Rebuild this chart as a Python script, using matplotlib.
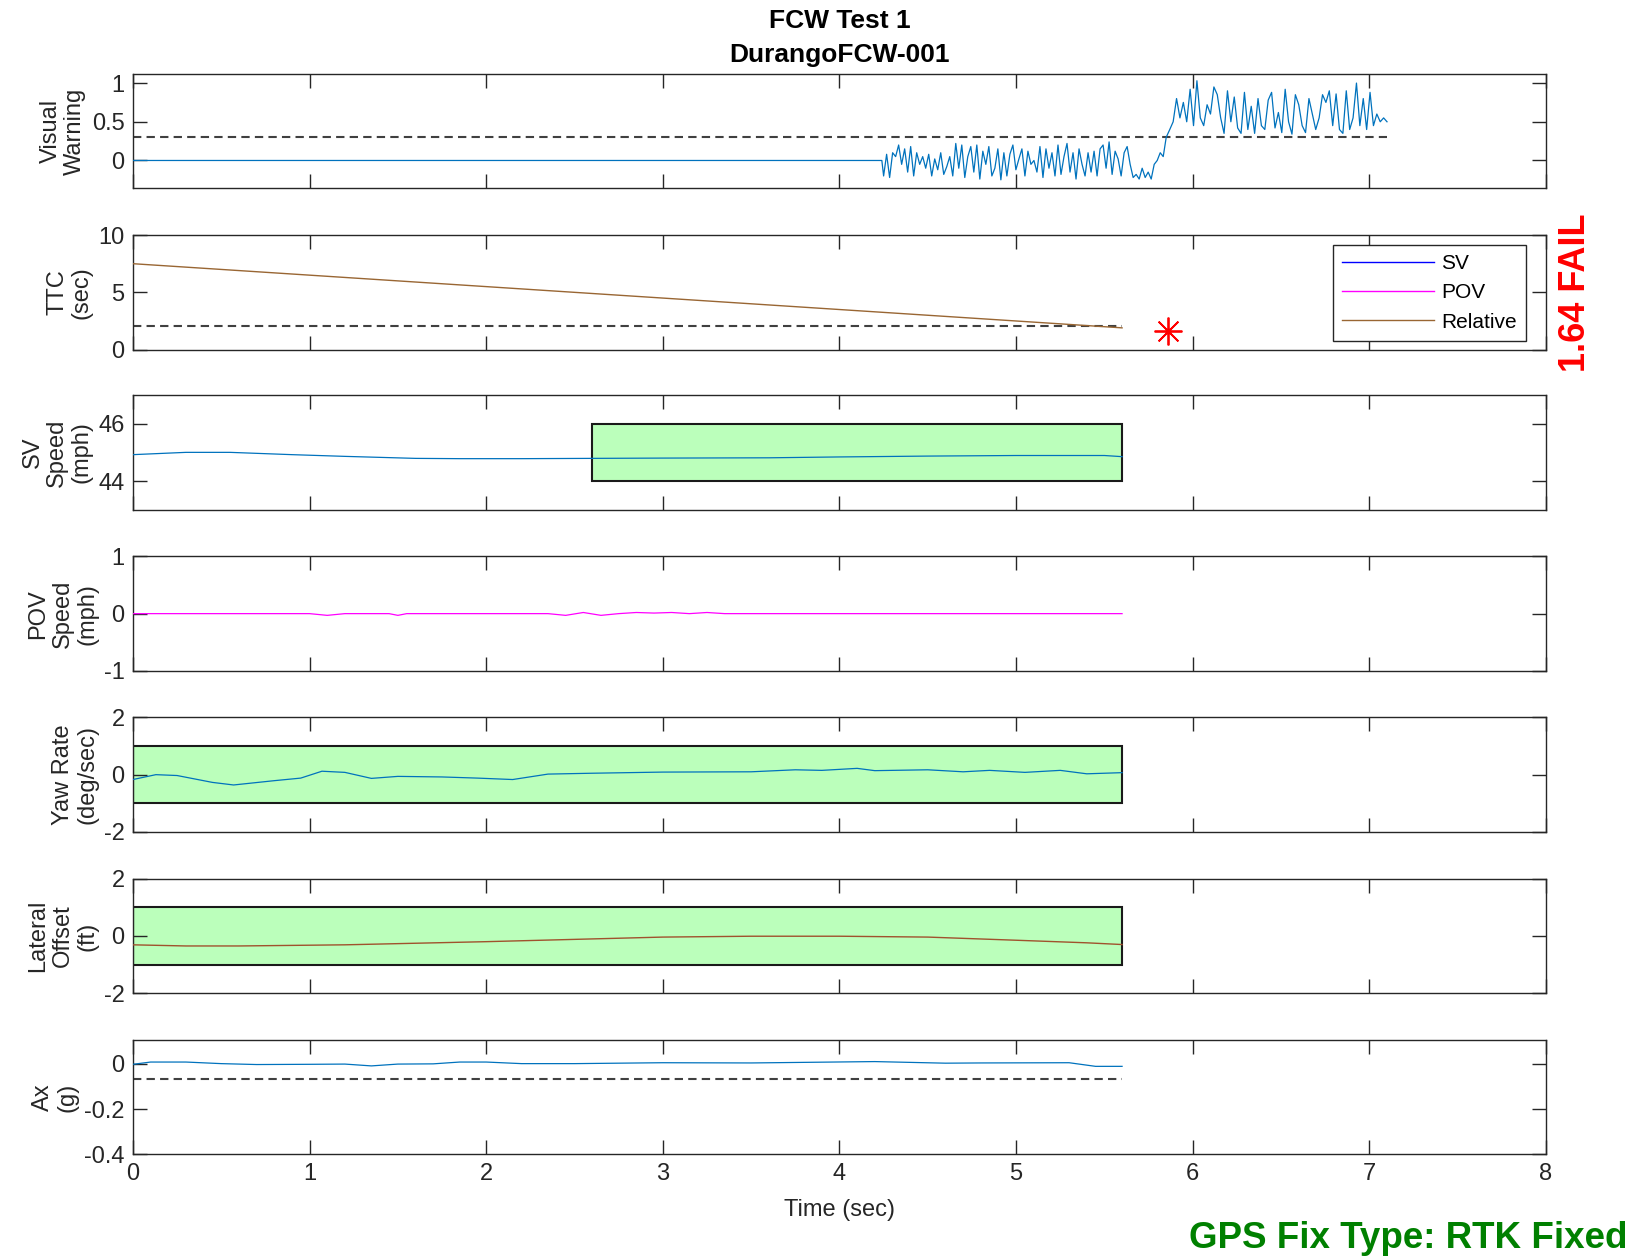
import numpy as np
import matplotlib.pyplot as plt
from matplotlib.patches import Rectangle

plt.rcParams['font.family'] = ['Liberation Sans', 'DejaVu Sans']
plt.rcParams['axes.unicode_minus'] = False

# ---- data ----
# Visual warning: flat zero, then noisy segment below / above threshold
vw_flat_t = [0.0, 4.24]
vw_flat_v = [0.0, 0.0]
vw_seg1 = [-0.2, 0.08, -0.22, 0.1, 0.05, 0.2, -0.05, 0.15, -0.15, 0.18, -0.2, 0.1, -0.05, 0.05,
           -0.1, 0.08, -0.2, 0.02, -0.12, 0.1, -0.18, -0.08, 0.05, -0.2, 0.22, -0.1, 0.2, -0.22,
           0.05, 0.18, -0.15, 0.2, -0.24, 0.12, -0.05, 0.18, -0.2, -0.1, 0.15, -0.25, 0.1, -0.2,
           0.08, 0.2, -0.12, 0.02, 0.15, -0.2, 0.12, -0.05, 0.0, -0.15, 0.18, -0.22, 0.15, -0.1,
           0.1, -0.2, 0.2, -0.18, 0.05, 0.22, -0.15, 0.1, -0.24, 0.15, -0.05, -0.2, 0.1, -0.15,
           0.12, -0.2, 0.15, 0.2, -0.1, 0.24, -0.18, 0.12, 0.02, -0.2, 0.1, 0.18, -0.05, -0.22,
           -0.18, -0.24, -0.1, -0.22, -0.15, -0.24, -0.05, 0.0, 0.1, 0.05, 0.3]
vw_seg1_span = (4.25, 5.85)
vw_seg2 = [0.4, 0.5, 0.8, 0.55, 0.75, 0.5, 0.92, 0.45, 1.03, 0.55, 0.45, 0.72, 0.6, 0.95, 0.85,
           0.55, 0.35, 0.9, 0.5, 0.82, 0.42, 0.35, 0.88, 0.4, 0.7, 0.35, 0.8, 0.45, 0.4, 0.78,
           0.88, 0.42, 0.62, 0.36, 0.92, 0.5, 0.34, 0.85, 0.72, 0.45, 0.36, 0.8, 0.6, 0.4, 0.55,
           0.85, 0.75, 0.9, 0.45, 0.86, 0.4, 0.35, 0.9, 0.4, 0.55, 1.0, 0.45, 0.8, 0.4, 0.88,
           0.45, 0.6, 0.5, 0.55, 0.5]
vw_seg2_span = (5.87, 7.10)
vw_threshold = 0.3

# TTC
ttc_t = [0.0, 1.0, 2.0, 3.0, 4.0, 5.0, 5.6]
ttc_rel = [7.5, 6.5, 5.5, 4.5, 3.5, 2.5, 1.9]
ttc_threshold = 2.1
ttc_fail_t, ttc_fail_v = 5.86, 1.64

# SV speed
sv_t = [0.0, 0.3, 0.55, 0.9, 1.2, 1.6, 1.85, 2.2, 2.6, 3.0, 3.6, 4.0, 4.5, 5.0, 5.5, 5.6]
sv_v = [44.92, 45.0, 45.0, 44.92, 44.86, 44.79, 44.78, 44.78, 44.79, 44.8, 44.81, 44.84,
        44.87, 44.89, 44.89, 44.85]
sv_box = (2.6, 5.6, 44.0, 46.0)

# POV speed
pov_t = [0.0, 1.0, 1.1, 1.2, 1.45, 1.5, 1.55, 2.35, 2.45, 2.55, 2.65, 2.75, 2.85, 2.95,
         3.05, 3.15, 3.25, 3.35, 5.6]
pov_v = [0.0, 0.0, -0.03, 0.0, 0.0, -0.03, 0.0, 0.0, -0.03, 0.02, -0.03, 0.0, 0.02, 0.01,
         0.02, 0.0, 0.02, 0.0, 0.0]

# Yaw rate
yaw_t = [0.0, 0.13, 0.25, 0.45, 0.57, 0.8, 0.95, 1.07, 1.2, 1.35, 1.5, 1.75, 1.95, 2.15,
         2.35, 2.6, 3.0, 3.5, 3.75, 3.9, 4.1, 4.2, 4.5, 4.7, 4.85, 5.05, 5.25, 5.4, 5.6]
yaw_v = [-0.17, 0.0, -0.03, -0.27, -0.36, -0.21, -0.12, 0.12, 0.08, -0.13, -0.06, -0.08,
         -0.12, -0.17, 0.02, 0.05, 0.09, 0.1, 0.17, 0.15, 0.22, 0.14, 0.17, 0.1, 0.15, 0.08,
         0.15, 0.03, 0.07]
yaw_box = (0.0, 5.6, -1.0, 1.0)

# Lateral offset
lat_t = [0.0, 0.3, 0.6, 1.2, 2.0, 2.5, 3.0, 3.5, 4.0, 4.5, 5.0, 5.4, 5.6]
lat_v = [-0.31, -0.35, -0.35, -0.31, -0.2, -0.12, -0.04, -0.01, -0.01, -0.04, -0.15, -0.24, -0.3]
lat_box = (0.0, 5.6, -1.0, 1.0)

# Longitudinal acceleration
ax_t = [0.0, 0.1, 0.3, 0.5, 0.7, 1.0, 1.2, 1.35, 1.5, 1.7, 1.85, 2.0, 2.2, 2.5, 3.0, 3.5,
        4.2, 4.6, 4.8, 5.3, 5.45, 5.6]
ax_v = [-0.003, 0.007, 0.007, 0.0, -0.004, -0.003, -0.002, -0.01, -0.002, -0.001, 0.007,
        0.007, 0.0, 0.0, 0.004, 0.003, 0.009, 0.002, 0.003, 0.004, -0.012, -0.012]
ax_threshold = -0.068

ylabels = ['Visual\nWarning', 'TTC\n(sec)', 'SV\nSpeed\n(mph)', 'POV\nSpeed\n(mph)',
           'Yaw Rate\n(deg/sec)', 'Lateral\nOffset\n(ft)', 'Ax\n(g)']
ylims = [(-0.36, 1.12), (0, 10), (43, 47), (-1, 1), (-2, 2), (-2, 2), (-0.4, 0.105)]
yticks = [[0, 0.5, 1], [0, 5, 10], [44, 46], [-1, 0, 1], [-2, 0, 2], [-2, 0, 2], [-0.4, -0.2, 0]]
yticklabels = [['0', '0.5', '1'], ['0', '5', '10'], ['44', '46'], ['-1', '0', '1'],
               ['-2', '0', '2'], ['-2', '0', '2'], ['-0.4', '-0.2', '0']]
bottoms = [0.8504, 0.7223, 0.5952, 0.4671, 0.3392, 0.2111, 0.0831]

mblue = '#0072BD'
brown = '#996633'
dark = '#262626'
dash_col = '#404040'
box_green = '#BBFFBB'

fig = plt.figure(figsize=(16.41, 12.59), dpi=100)
axes = []
for i, b in enumerate(bottoms):
    ax = fig.add_axes([0.0810, b, 0.8611, 0.0910])
    ax.set_xlim(0, 8)
    ax.set_ylim(*ylims[i])
    ax.set_xticks(range(0, 9))
    ax.set_yticks(yticks[i])
    ax.set_yticklabels(yticklabels[i])
    ax.tick_params(direction='in', top=True, right=True, length=10, width=1,
                   color=dark, labelcolor=dark, labelsize=17, pad=6)
    if i < len(bottoms) - 1:
        ax.set_xticklabels([])
    for s in ax.spines.values():
        s.set_color(dark)
        s.set_linewidth(1.0)
    ax.set_ylabel(ylabels[i], fontsize=17, color=dark, labelpad=4, linespacing=1.15)
    axes.append(ax)

def green_box(ax, box):
    x0, x1, y0, y1 = box
    ax.add_patch(Rectangle((x0, y0), x1 - x0, y1 - y0, facecolor=box_green,
                           edgecolor='#1a1a1a', linewidth=1.5, zorder=1))

# 1. visual warning
a = axes[0]
t1 = np.linspace(vw_seg1_span[0], vw_seg1_span[1], len(vw_seg1))
t2 = np.linspace(vw_seg2_span[0], vw_seg2_span[1], len(vw_seg2))
vw_t = np.concatenate([vw_flat_t, t1, t2])
vw_v = np.concatenate([vw_flat_v, vw_seg1, vw_seg2])
a.plot(vw_t, vw_v, color=mblue, lw=0.9, zorder=3)
a.plot([0, vw_seg2_span[1]], [vw_threshold] * 2, color=dash_col, lw=1.5, dashes=(4, 2.5), zorder=2)

# 2. TTC
a = axes[1]
a.plot([], [], color='blue', lw=1, label='SV')
a.plot([], [], color='magenta', lw=1, label='POV')
a.plot(ttc_t, ttc_rel, color=brown, lw=1, label='Relative', zorder=3)
a.plot([0, ttc_t[-1]], [ttc_threshold] * 2, color=dash_col, lw=1.5, dashes=(4, 2.5), zorder=2)
a.plot([ttc_fail_t], [ttc_fail_v], marker=(8, 2, 0), color='red', markersize=20,
       markeredgewidth=1.3, linestyle='none')
leg = a.legend(loc='upper right', bbox_to_anchor=(0.986, 0.917), borderaxespad=0,
               fontsize=15, handlelength=4.4, handletextpad=0.35, labelspacing=0.5,
               borderpad=0.45, fancybox=False, framealpha=1)
leg.get_frame().set_edgecolor(dark)
leg.get_frame().set_linewidth(1.0)
a.text(1.021, 0.5, '1.64 FAIL', transform=a.transAxes, rotation=90, color='red',
       fontsize=26, fontweight='bold', ha='center', va='center')

# 3. SV speed
a = axes[2]
green_box(a, sv_box)
a.plot(sv_t, sv_v, color=mblue, lw=0.9, zorder=3)

# 4. POV speed
a = axes[3]
a.plot(pov_t, pov_v, color='magenta', lw=0.9, zorder=3)

# 5. yaw rate
a = axes[4]
green_box(a, yaw_box)
a.plot(yaw_t, yaw_v, color=mblue, lw=0.9, zorder=3)

# 6. lateral offset
a = axes[5]
green_box(a, lat_box)
a.plot(lat_t, lat_v, color='#A0522D', lw=1.0, zorder=3)

# 7. Ax
a = axes[6]
a.plot(ax_t, ax_v, color=mblue, lw=0.9, zorder=3)
a.plot([0, ax_t[-1]], [ax_threshold] * 2, color=dash_col, lw=1.5, dashes=(4, 2.5), zorder=2)
a.set_xlabel('Time (sec)', fontsize=17, color=dark, labelpad=10)

fig.text(0.5115, 0.983, 'FCW Test 1', ha='center', va='center', fontsize=19, fontweight='bold')
fig.text(0.5115, 0.9567, 'DurangoFCW-001', ha='center', va='center', fontsize=19, fontweight='bold')
fig.text(0.9915, 0.009, 'GPS Fix Type: RTK Fixed', ha='right', va='baseline', color='#008000',
         fontsize=26.5, fontweight='bold')

plt.savefig('out.png', dpi=100)
